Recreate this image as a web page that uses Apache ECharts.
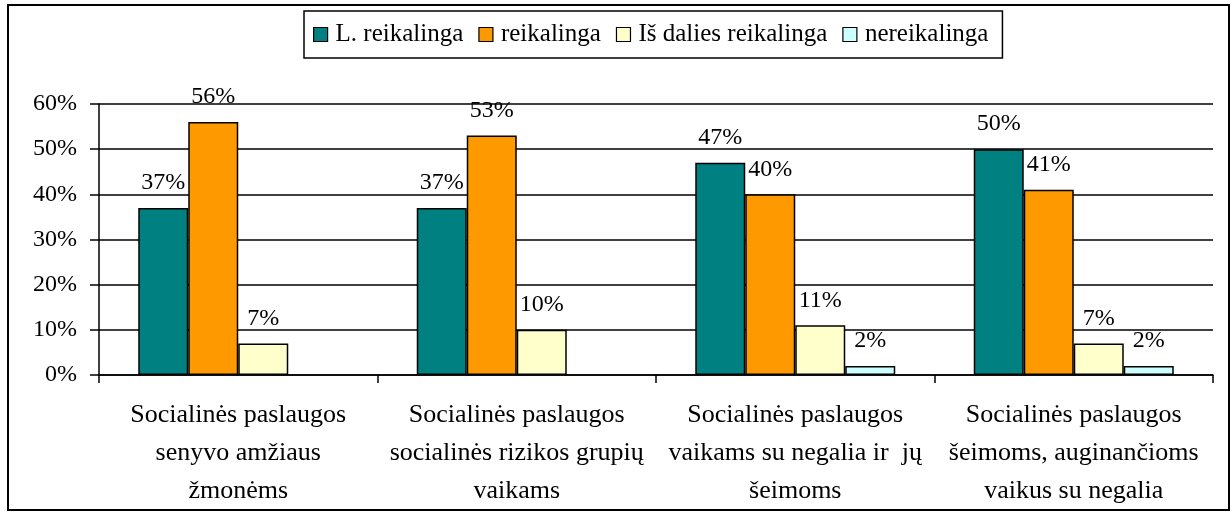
<!DOCTYPE html>
<html>
<head>
<meta charset="utf-8">
<script src="https://cdn.jsdelivr.net/npm/echarts@6/dist/echarts.min.js"></script>
<style>
  html, body { margin: 0; padding: 0; background: #fff; }
  #chart { width: 1232px; height: 522px; }
</style>
</head>
<body>
<div id="chart"></div>
<script>
var categories = [
  'Socialinės paslaugos\nsenyvo amžiaus\nžmonėms',
  'Socialinės paslaugos\nsocialinės rizikos grupių\nvaikams',
  'Socialinės paslaugos\nvaikams su negalia ir  jų\nšeimoms',
  'Socialinės paslaugos\nšeimoms, auginančioms\nvaikus su negalia'
];
var seriesNames = ['L. reikalinga', 'reikalinga', 'Iš dalies reikalinga', 'nereikalinga'];
var labaiReikalinga = [37, 37, 47, 50];
var reikalinga = [56, 53, 40, 41];
var isDaliesReikalinga = [7, 10, 11, 7];
var nereikalinga = [null, null, 2, 2];
var colors = ['#008080', '#FF9900', '#FFFFCC', '#CCFFFF'];

var font = "'Liberation Serif'";

function makeSeries(name, data, color) {
  return {
    name: name,
    type: 'bar',
    data: data,
    barWidth: 50,
    barGap: '0%',
    itemStyle: { color: color, borderColor: '#000', borderWidth: 1.5 },
    label: {
      show: true,
      position: 'top',
      distance: 13,
      formatter: '{c}%',
      color: '#000',
      fontFamily: font,
      fontSize: 24
    }
  };
}

var chart = echarts.init(document.getElementById('chart'));
chart.setOption({
  animation: false,
  backgroundColor: '#fff',
  graphic: [{
    type: 'rect',
    shape: { x: 8, y: 5, width: 1221, height: 505 },
    style: { fill: 'none', stroke: '#000', lineWidth: 2 },
    z: -1
  }],
  legend: {
    data: seriesNames,
    left: 304,
    top: 11,
    padding: [11, 14, 11, 9],
    itemGap: 15,
    itemWidth: 14,
    itemHeight: 14,
    icon: 'rect',
    borderColor: '#000',
    borderWidth: 1.5,
    itemStyle: { borderColor: '#000', borderWidth: 1.2 },
    textStyle: { fontFamily: font, fontSize: 25, color: '#000', padding: [0, 0, 0, 3] }
  },
  grid: { left: 99, right: 19, top: 104, bottom: 147 },
  xAxis: {
    type: 'category',
    data: categories,
    axisLine: { lineStyle: { color: '#000', width: 1.5 } },
    axisTick: { show: true, length: 8, lineStyle: { color: '#000', width: 1.5 } },
    axisLabel: {
      interval: 0,
      margin: 21,
      fontFamily: font,
      fontSize: 26,
      lineHeight: 38,
      color: '#000'
    }
  },
  yAxis: {
    type: 'value',
    min: 0,
    max: 60,
    interval: 10,
    axisLine: { show: true, lineStyle: { color: '#000', width: 1.5 } },
    axisTick: { show: true, length: 9, lineStyle: { color: '#000', width: 1.5 } },
    axisLabel: {
      formatter: '{value}%',
      margin: 22,
      fontFamily: font,
      fontSize: 24,
      color: '#000'
    },
    splitLine: { lineStyle: { color: '#000', width: 1.5 } }
  },
  series: [
    makeSeries(seriesNames[0], labaiReikalinga, colors[0]),
    makeSeries(seriesNames[1], reikalinga, colors[1]),
    makeSeries(seriesNames[2], isDaliesReikalinga, colors[2]),
    makeSeries(seriesNames[3], nereikalinga, colors[3])
  ]
});
</script>
</body>
</html>
